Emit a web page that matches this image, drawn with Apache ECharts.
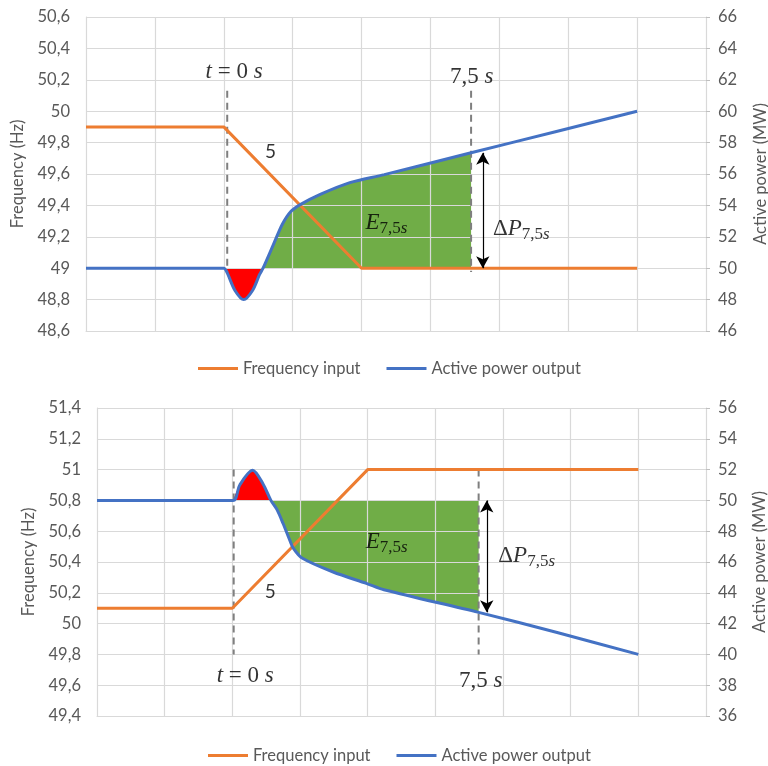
<!DOCTYPE html>
<html><head><meta charset="utf-8">
<script src="https://cdn.jsdelivr.net/npm/echarts@6/dist/echarts.min.js"></script>
<style>html,body{margin:0;padding:0;background:#fff}#c{width:768px;height:766px}</style>
</head><body><div id="c"></div>
<script>
// ---- DATA (x in chart grid units 0..9) ----
// Top chart: frequency drop
const topFreqX = [0, 2, 4, 8];
const topFreqY = [49.9, 49.9, 49.0, 49.0];
const topPowerX = [0, 1.0, 2.0, 2.05, 2.16, 2.29, 2.42, 2.52, 2.57, 2.72, 2.85, 2.97, 3.11, 3.4, 3.83, 4.33, 5.59, 6.8, 8];
const topPowerY = [50, 50, 50, 49.7, 48.6, 48.0, 48.6, 49.6, 50.0, 51.5, 52.8, 53.6, 54.05, 54.7, 55.45, 55.96, 57.35, 58.68, 60];
// Bottom chart: frequency rise
const botFreqX = [0, 2, 4, 8];
const botFreqY = [50.1, 50.1, 51.0, 51.0];
const botPowerX = [0, 1.0, 2.01, 2.11, 2.3, 2.45, 2.57, 2.66, 2.75, 2.85, 2.9, 3.03, 3.49, 3.99, 4.24, 5.64, 6.8, 8];
const botPowerY = [50, 50, 50, 51.0, 51.95, 51.1, 50.0, 49.4, 48.5, 47.4, 46.9, 46.26, 45.35, 44.6, 44.2, 42.73, 41.42, 40];
// event times (grid units) and power reference
const topT0 = 2.05, topT75 = 5.59, topArrowX = 5.76;
const botT0 = 2.02, botT75 = 5.64, botArrowX = 5.76;
const refPower = 50;
// axis ranges
const topLeftAxis = [48.6, 50.6, 0.2], topRightAxis = [46, 66, 2];
const botLeftAxis = [49.4, 51.4, 0.2], botRightAxis = [36, 56, 2];
const seriesNames = ['Frequency input', 'Active power output'];

const ORANGE = '#ED7D31', BLUE = '#4472C4', GREEN = '#70AD47', RED = '#FF0000';
const GRID = '#D9D9D9', TXT = '#595959';
const LBL_FONT = 'Lato';
const MATH = 'Liberation Serif';

function zip(xs, ys) { return xs.map((x, i) => [x, ys[i]]); }
function subset(xs, ys, a, b) { const r = []; xs.forEach((x, i) => { if (x >= a - 1e-9 && x <= b + 1e-9) r.push([x, ys[i]]); }); return r; }
const fmt = v => String(+(+v).toFixed(1)).replace('.', ',');

const rich = {
  i: { fontFamily: MATH, fontStyle: 'italic', fontSize: 23, color: '#000', lineHeight: 28 },
  n: { fontFamily: MATH, fontSize: 23, color: '#000', lineHeight: 28 },
  s: { fontFamily: LBL_FONT, fontSize: 19, color: '#000', lineHeight: 28 },
  sub: { fontFamily: MATH, fontSize: 17, color: '#000', lineHeight: 14, verticalAlign: 'bottom' },
  subi: { fontFamily: MATH, fontStyle: 'italic', fontSize: 17, color: '#000', lineHeight: 14, verticalAlign: 'bottom' }
};
const T0 = '{i|t}{n| = 0 }{i|s}';
const T75 = '{n|7,5 }{i|s}';
const FIVE = '{s|5}';
const E75 = '{i|E}{sub|7,5}{subi|s}';
const DP75 = '{n|Δ}{i|P}{sub|7,5}{subi|s}';

function yAxisPair(gi, leftR, rightR, leftGap, rightGap) {
  return [
    { type: 'value', gridIndex: gi, position: 'left', min: leftR[0], max: leftR[1], interval: leftR[2], z: 2,
      name: 'Frequency (Hz)', nameLocation: 'middle', nameGap: leftGap, nameRotate: 90,
      nameTextStyle: { color: TXT, fontSize: 16.5, fontFamily: LBL_FONT },
      axisLine: { show: true, lineStyle: { color: GRID } }, axisTick: { show: false },
      axisLabel: { color: TXT, fontSize: 16.5, fontFamily: LBL_FONT, margin: 16, formatter: fmt },
      splitLine: { show: true, lineStyle: { color: GRID, width: 1.2 } } },
    { type: 'value', gridIndex: gi, position: 'right', min: rightR[0], max: rightR[1], interval: rightR[2], z: 2,
      name: 'Active power (MW)', nameLocation: 'middle', nameGap: rightGap, nameRotate: 90,
      nameTextStyle: { color: TXT, fontSize: 16.5, fontFamily: LBL_FONT },
      axisLine: { show: true, lineStyle: { color: GRID } },
      axisTick: { show: true, length: 4, lineStyle: { color: '#BFBFBF' } },
      axisLabel: { color: TXT, fontSize: 16.5, fontFamily: LBL_FONT, margin: 12, formatter: fmt },
      splitLine: { show: false } }
  ];
}

function xAxis(gi) {
  return { type: 'value', gridIndex: gi, min: 0, max: 9, interval: 1, z: 2,
    axisLine: { show: true, onZero: false, lineStyle: { color: GRID } }, axisTick: { show: false },
    axisLabel: { show: false }, splitLine: { show: true, lineStyle: { color: GRID, width: 1.2 } } };
}

function chartSeries(xi, yL, yR, fX, fY, pX, pY, t0, t75, arrowX, dashTop, dashBot, ann) {
  const cross = pX[pY.indexOf(refPower, 3)];
  const SM = 0.3;
  return [
    { type: 'line', name: 'redfill', xAxisIndex: xi, yAxisIndex: yR, data: subset(pX, pY, 2.0, cross), smooth: SM,
      showSymbol: false, symbol: 'none', lineStyle: { width: 0 }, areaStyle: { color: RED, opacity: 1, origin: refPower }, z: 1, silent: true },
    { type: 'line', name: 'greenfill', xAxisIndex: xi, yAxisIndex: yR, data: subset(pX, pY, cross, t75), smooth: SM,
      showSymbol: false, symbol: 'none', lineStyle: { width: 0 }, areaStyle: { color: GREEN, opacity: 1, origin: refPower }, z: 1, silent: true },
    { type: 'line', name: 'dash0', xAxisIndex: xi, yAxisIndex: yR, data: [[t0, dashTop], [t0, dashBot]], showSymbol: false, symbol: 'none',
      lineStyle: { color: '#7F7F7F', width: 2, type: [7, 5] }, z: 3, silent: true },
    { type: 'line', name: 'dash75', xAxisIndex: xi, yAxisIndex: yR, data: [[t75, dashTop], [t75, dashBot]], showSymbol: false, symbol: 'none',
      lineStyle: { color: '#7F7F7F', width: 2, type: [7, 5] }, z: 3, silent: true },
    { type: 'line', name: seriesNames[0], xAxisIndex: xi, yAxisIndex: yL, data: zip(fX, fY), showSymbol: false, symbol: 'none',
      lineStyle: { color: ORANGE, width: 3 }, itemStyle: { color: ORANGE }, z: 4 },
    { type: 'line', name: seriesNames[1], xAxisIndex: xi, yAxisIndex: yR, data: zip(pX, pY), smooth: SM, showSymbol: false, symbol: 'none',
      lineStyle: { color: BLUE, width: 3 }, itemStyle: { color: BLUE }, z: 5,
      markLine: { silent: true, symbol: ['arrow', 'arrow'], symbolSize: [10, 12], label: { show: false },
        lineStyle: { color: '#000', width: 1.2, type: 'solid' },
        data: [[{ coord: [arrowX, pY[pX.indexOf(t75)]] }, { coord: [arrowX, refPower] }]] } },
    { type: 'scatter', name: 'ann', xAxisIndex: xi, yAxisIndex: yR, symbolSize: 1, itemStyle: { color: 'rgba(0,0,0,0)' }, z: 6, silent: true,
      label: { show: true, position: 'inside', formatter: p => p.data[2], rich },
      data: [[ann.t0[0], ann.t0[1], T0], [ann.t75[0], ann.t75[1], T75], [ann.five[0], ann.five[1], FIVE],
             [ann.e[0], ann.e[1], E75], [ann.dp[0], ann.dp[1], DP75]] }
  ];
}

const topAnn = { t0: [2.15, 62.5], t75: [5.6, 62.2], five: [2.68, 57.4], e: [4.36, 52.9], dp: [6.32, 52.5] };
const botAnn = { t0: [2.19, 38.6], t75: [5.67, 38.3], five: [2.56, 44.05], e: [4.28, 47.3], dp: [6.35, 46.4] };

const chart = echarts.init(document.getElementById('c'), null, { renderer: 'canvas' });
const option = {
  animation: false,
  backgroundColor: '#fff',
  grid: [
    { left: 86, right: 62, top: 17, height: 314, containLabel: false, outerBoundsMode: 'none' },
    { left: 97, right: 62, top: 408, height: 308, containLabel: false, outerBoundsMode: 'none' }
  ],
  legend: [
    { data: seriesNames, top: 355, left: 193, icon: 'rect', itemWidth: 40, itemHeight: 3, itemGap: 26,
      textStyle: { color: TXT, fontSize: 16.5, fontFamily: LBL_FONT }, selectedMode: false },
    { data: seriesNames, top: 742, left: 203, icon: 'rect', itemWidth: 40, itemHeight: 3, itemGap: 26,
      textStyle: { color: TXT, fontSize: 16.5, fontFamily: LBL_FONT }, selectedMode: false }
  ],
  xAxis: [xAxis(0), xAxis(1)],
  yAxis: [...yAxisPair(0, topLeftAxis, topRightAxis, 50, 46), ...yAxisPair(1, botLeftAxis, botRightAxis, 50, 45)],
  series: [
    ...chartSeries(0, 0, 1, topFreqX, topFreqY, topPowerX, topPowerY, topT0, topT75, topArrowX, 61.3, 49.75, topAnn),
    ...chartSeries(1, 2, 3, botFreqX, botFreqY, botPowerX, botPowerY, botT0, botT75, botArrowX, 52, 40, botAnn)
  ]
};
chart.setOption(option);
</script>
</body></html>
